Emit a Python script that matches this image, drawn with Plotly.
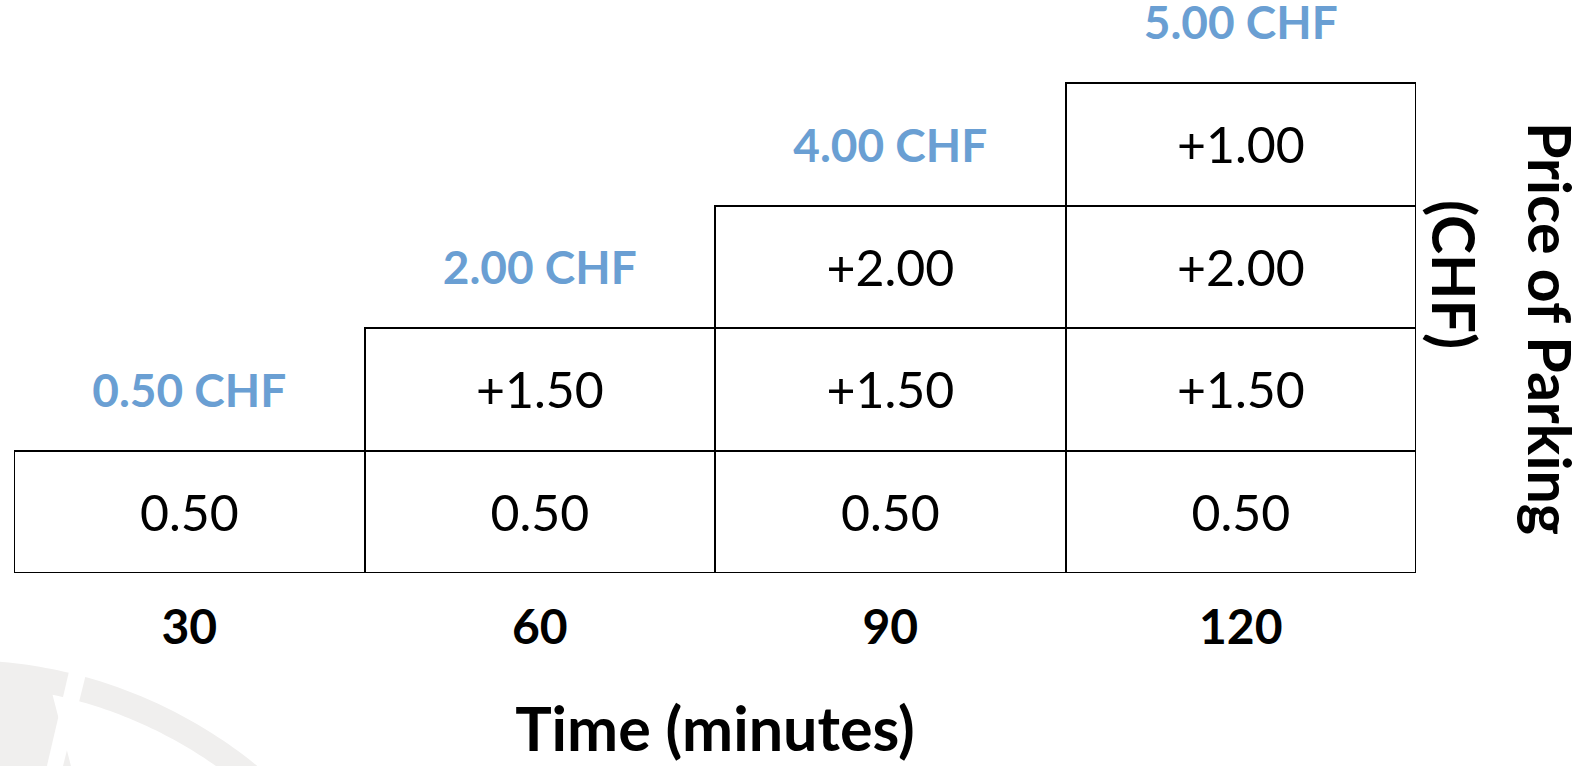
import numpy as np
import plotly.graph_objects as go

# ---- data ----
times = ["30", "60", "90", "120"]
layer_base = [0.50, 0.50, 0.50, 0.50]
layer_2 = [None, 1.50, 1.50, 1.50]
layer_3 = [None, None, 2.00, 2.00]
layer_4 = [None, None, None, 1.00]
layers = [layer_base, layer_2, layer_3, layer_4]
totals = [0.50, 2.00, 4.00, 5.00]

FONT = "Lato"
BLUE = "#6a9fd3"
GREY = "#f0efee"

fig = go.Figure()

for li, layer in enumerate(layers):
    xs = [t for t, v in zip(times, layer) if v is not None]
    vals = [v for v in layer if v is not None]
    labels = [("%.2f" % v) if li == 0 else ("+%.2f" % v) for v in vals]
    fig.add_trace(go.Bar(
        x=xs, y=[1] * len(xs), text=labels,
        textposition="inside", insidetextanchor="middle", textangle=0,
        textfont=dict(family=FONT, size=50, color="black"),
        marker=dict(color="white", line=dict(color="black", width=2.4)),
        hoverinfo="skip", showlegend=False,
    ))

# totals above each column (column height in boxes + about half a box)
heights = [sum(1 for L in layers if L[i] is not None) for i in range(len(times))]
fig.add_trace(go.Scatter(
    x=times, y=[h + 0.45 for h in heights],
    text=["%.2f CHF" % t for t in totals], mode="text", cliponaxis=False,
    textfont=dict(family=FONT, size=46, color=BLUE, weight="bold"),
    hoverinfo="skip", showlegend=False,
))

W, H = 1589, 766
ml, mr, mt, mb = 14, 173, 0, 193
pw, ph = W - ml - mr, H - mt - mb
ROW = 122.5

def px2paper(x, y):
    return (x - ml) / pw, (H - mb - y) / ph

def poly(pts):
    return "M " + " L ".join("%.5f,%.5f" % px2paper(x, y) for x, y in pts) + " Z"

# faint watermark (decoration)
cx, cy, ro, ri = -40, 1130, 470, 445
ang = np.deg2rad(np.linspace(100, 40, 80))
outer = [(cx + ro * np.cos(a), cy - ro * np.sin(a)) for a in ang]
disk = outer + [(outer[-1][0], 770), (outer[0][0], 770)]
ang_i = np.deg2rad(np.linspace(78, 40, 60))
inner = [(cx + ri * np.cos(a), cy - ri * np.sin(a)) for a in ang_i]
inner_region = inner + [(inner[-1][0], 770), (72, 770)]
stripe = [(74, 650), (92, 650), (62, 770), (46, 770)]
shapes = [
    dict(type="path", path=poly(disk), xref="paper", yref="paper",
         fillcolor=GREY, line=dict(width=0), layer="below"),
    dict(type="path", path=poly(stripe), xref="paper", yref="paper",
         fillcolor="white", line=dict(width=0), layer="below"),
    dict(type="path", path=poly(inner_region), xref="paper", yref="paper",
         fillcolor="white", line=dict(width=0), layer="below"),
]

title_font = dict(family=FONT, size=59, color="black", weight="bold")
fig.update_layout(
    width=W, height=H,
    margin=dict(l=ml, r=mr, t=mt, b=mb, autoexpand=False),
    barmode="stack", bargap=0,
    plot_bgcolor="white", paper_bgcolor="white",
    shapes=shapes,
    xaxis=dict(type="category", categoryorder="array", categoryarray=times,
               range=[-0.5, 3.5], showgrid=False, zeroline=False, showline=False,
               ticks="", ticklabelstandoff=22,
               tickfont=dict(family=FONT, size=48, color="black", weight="bold"),
               title=dict(text="Time (minutes)", standoff=55,
                          font=dict(family=FONT, size=61, color="black", weight="bold"))),
    yaxis=dict(range=[0, ph / ROW], visible=False, showgrid=False, zeroline=False),
    annotations=[
        dict(text="Price of Parking", textangle=90, xref="paper", yref="paper",
             x=(1551 - ml) / pw, y=(H - mb - 328) / ph,
             xanchor="center", yanchor="middle", showarrow=False, font=title_font),
        dict(text="(CHF)", textangle=90, xref="paper", yref="paper",
             x=(1455 - ml) / pw, y=(H - mb - 274) / ph,
             xanchor="center", yanchor="middle", showarrow=False, font=title_font),
    ],
)

fig.write_html("out.html", config={"displayModeBar": False},
               post_script="document.body.style.margin='0';")
